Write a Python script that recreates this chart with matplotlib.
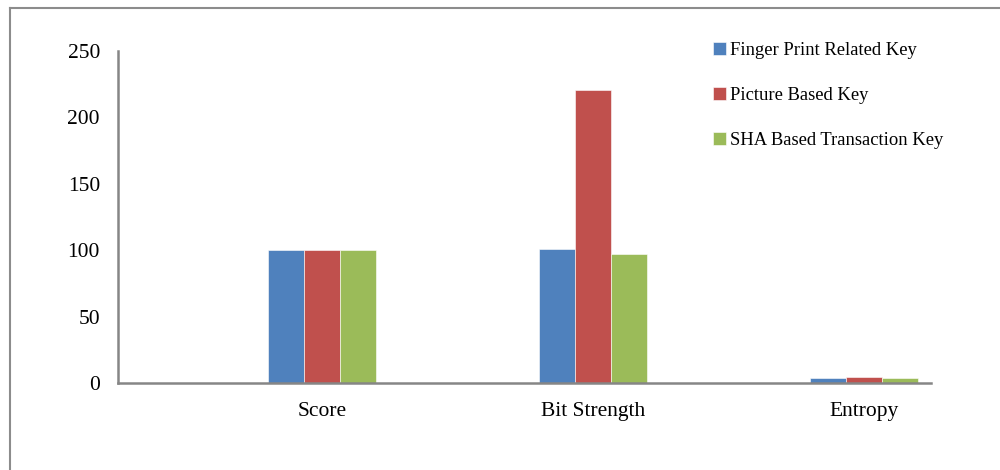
import numpy as np
import matplotlib
matplotlib.use("Agg")
import matplotlib.pyplot as plt
from matplotlib.lines import Line2D

categories = ["Score", "Bit Strength", "Entropy"]
series_names = ["Finger Print Related Key", "Picture Based Key", "SHA Based Transaction Key"]
fingerprint = [100, 101, 3.5]
picture = [100, 221, 4.3]
sha = [100, 97, 3.5]
yticks = [0, 50, 100, 150, 200, 250]

colors = ["#4F81BD", "#C0504D", "#9BBB59"]

plt.rcParams["font.family"] = ["Liberation Serif", "DejaVu Serif"]

fig = plt.figure(figsize=(10, 4.7), dpi=100)
ax = fig.add_axes([0.118, 0.185, 0.813, 0.7065])

x = np.arange(len(categories))
width = 0.133
for i, (vals, name, c) in enumerate(zip([fingerprint, picture, sha], series_names, colors)):
    ax.bar(x + (i - 1) * width, vals, width, color=c, label=name,
           edgecolor="white", linewidth=0.4)

ax.set_xlim(-0.753, 2.247)
ax.set_ylim(0, 250)
ax.set_yticks(yticks)
ax.set_xticks(x)
ax.set_xticklabels(categories)
ax.tick_params(axis="both", length=0, labelsize=15.5, colors="black")
ax.tick_params(axis="x", pad=14)
ax.tick_params(axis="y", pad=13)

for s in ["top", "right"]:
    ax.spines[s].set_visible(False)
for s in ["left", "bottom"]:
    ax.spines[s].set_color("#868686")
    ax.spines[s].set_linewidth(1.8)

leg = fig.legend(loc="upper left", bbox_to_anchor=(0.706, 0.927), frameon=False,
                 fontsize=13.4, handlelength=0.7, handleheight=0.7, handletextpad=0.2,
                 labelspacing=1.5, borderaxespad=0)

# outer chart frame
fig.add_artist(Line2D([0.010, 0.010], [1 - 8 / 470, 0.0], transform=fig.transFigure,
                      color="#8c8c8c", linewidth=1.5))
fig.add_artist(Line2D([0.010, 1.0], [1 - 8 / 470, 1 - 8 / 470], transform=fig.transFigure,
                      color="#8c8c8c", linewidth=1.5))

fig.savefig("out.png", dpi=100)
